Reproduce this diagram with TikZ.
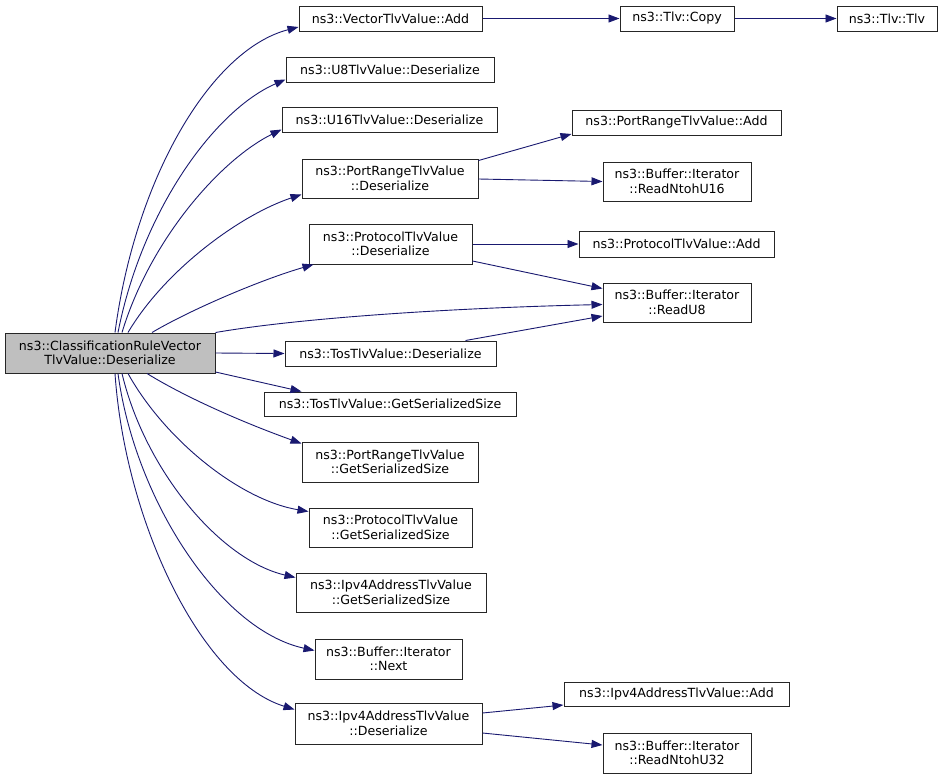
\documentclass[tikz,border=0pt]{standalone}
\usepackage{fontspec}
\setmainfont{DejaVu Sans}
\usetikzlibrary{arrows.meta}
\definecolor{edgeblue}{HTML}{191970}
\definecolor{maingray}{HTML}{BFBFBF}
\begin{document}
\begin{tikzpicture}[x=1pt,y=-1pt,
  box/.style={draw=black!85, line width=1pt, fill=white, inner sep=0pt, align=center,
    font=\fontsize{12.6}{14.5}\selectfont},
  mainbox/.style={box, fill=maingray},
  call/.style={draw=edgeblue, line width=0.9pt, -{Triangle[length=11pt,width=8pt]}, fill=none}]
\fill[white] (0,0) rectangle (944,779);
\useasboundingbox (0,0) rectangle (944,779);

% nodes
\node[mainbox, minimum width=210pt, minimum height=40pt] (main) at (110,353) {ns3::ClassificationRuleVector\\TlvValue::Deserialize};
\node[box, minimum width=183pt, minimum height=25pt] (vadd) at (390.5,18.5) {ns3::VectorTlvValue::Add};
\node[box, minimum width=114pt, minimum height=25pt] (copy) at (677,18.5) {ns3::Tlv::Copy};
\node[box, minimum width=100pt, minimum height=25pt] (tlv) at (887,18.5) {ns3::Tlv::Tlv};
\node[box, minimum width=208pt, minimum height=25pt] (u8) at (390,69.5) {ns3::U8TlvValue::Deserialize};
\node[box, minimum width=215pt, minimum height=25pt] (u16) at (389.5,119.5) {ns3::U16TlvValue::Deserialize};
\node[box, minimum width=209pt, minimum height=25pt] (pradd) at (676.5,122.5) {ns3::PortRangeTlvValue::Add};
\node[box, minimum width=176pt, minimum height=39pt] (prd) at (390,178.5) {ns3::PortRangeTlvValue\\::Deserialize};
\node[box, minimum width=148pt, minimum height=39pt] (rn16) at (677,181.5) {ns3::Buffer::Iterator\\::ReadNtohU16};
\node[box, minimum width=163pt, minimum height=40pt] (pd) at (390.5,244) {ns3::ProtocolTlvValue\\::Deserialize};
\node[box, minimum width=195pt, minimum height=26pt] (padd) at (676.5,244) {ns3::ProtocolTlvValue::Add};
\node[box, minimum width=148pt, minimum height=39pt] (ru8) at (677,302.5) {ns3::Buffer::Iterator\\::ReadU8};
\node[box, minimum width=211pt, minimum height=25pt] (tosd) at (390.5,353.5) {ns3::TosTlvValue::Deserialize};
\node[box, minimum width=252pt, minimum height=24pt] (tosg) at (390,404) {ns3::TosTlvValue::GetSerializedSize};
\node[box, minimum width=176pt, minimum height=40pt] (prg) at (390,462) {ns3::PortRangeTlvValue\\::GetSerializedSize};
\node[box, minimum width=163pt, minimum height=39pt] (pg) at (390.5,527.5) {ns3::ProtocolTlvValue\\::GetSerializedSize};
\node[box, minimum width=190pt, minimum height=39pt] (ig) at (391,592.5) {ns3::Ipv4AddressTlvValue\\::GetSerializedSize};
\node[box, minimum width=147pt, minimum height=40pt] (next) at (388.5,659) {ns3::Buffer::Iterator\\::Next};
\node[box, minimum width=187pt, minimum height=41pt] (id) at (388.5,723.5) {ns3::Ipv4AddressTlvValue\\::Deserialize};
\node[box, minimum width=225pt, minimum height=24pt] (iadd) at (676.5,694) {ns3::Ipv4AddressTlvValue::Add};
\node[box, minimum width=148pt, minimum height=40pt] (rn32) at (677,753) {ns3::Buffer::Iterator\\::ReadNtohU32};

% upward edges from main
\draw[call] ([xshift=5pt]main.north) .. controls (135,180) and (210,50) .. ([yshift=-8.5pt]vadd.west);
\draw[call] ([xshift=8pt]main.north) .. controls (142,210) and (215,110) .. ([yshift=-10pt]u8.west);
\draw[call] ([xshift=12pt]main.north) .. controls (150,240) and (220,160) .. ([yshift=-10pt]u16.west);
\draw[call] ([xshift=18pt]main.north) .. controls (165,270) and (240,215) .. ([yshift=-16pt]prd.west);
\draw[call] ([xshift=42pt]main.north) .. controls (190,310) and (260,280) .. ([xshift=5pt]pd.south west);
\draw[call] (main.north east) .. controls (300,318) and (450,308) .. ([yshift=-2pt]ru8.west);
\draw[call] (main.east) -- (tosd.west);

% downward edges from main
\draw[call] ([yshift=-19pt]main.east) -- ([xshift=38pt]tosg.north west);
\draw[call] ([xshift=37pt]main.south) .. controls (190,400) and (250,425) .. ([yshift=-2pt]prg.north west);
\draw[call] ([xshift=18pt]main.south) .. controls (165,440) and (240,500) .. ([yshift=-4pt]pg.north west);
\draw[call] ([xshift=12pt]main.south) .. controls (145,470) and (220,560) .. ([yshift=-5pt]ig.north west);
\draw[call] ([xshift=8pt]main.south) .. controls (135,500) and (220,630) .. ([yshift=-12pt]next.north west);
\draw[call] ([xshift=5pt]main.south) .. controls (125,520) and (200,680) .. ([yshift=-7pt]id.north west);

% second level
\draw[call] (vadd.east) -- (copy.west);
\draw[call] (copy.east) -- (tlv.west);
\draw[call] ([yshift=-2pt]prd.north east) -- ([yshift=-11.5pt]pradd.west);
\draw[call] ([yshift=-0.5pt]prd.east) -- (rn16.west);
\draw[call] (pd.east) -- (padd.west);
\draw[call] ([yshift=-17pt]pd.east) -- ([yshift=14pt]ru8.west);
\draw[call] ([xshift=-31pt]tosd.north east) -- ([yshift=-13.5pt]ru8.west);
\draw[call] ([yshift=10.5pt]id.east) -- ([yshift=-11pt]iadd.west);
\draw[call] ([yshift=-9.5pt]id.east) -- ([yshift=8pt]rn32.west);
\end{tikzpicture}
\end{document}
